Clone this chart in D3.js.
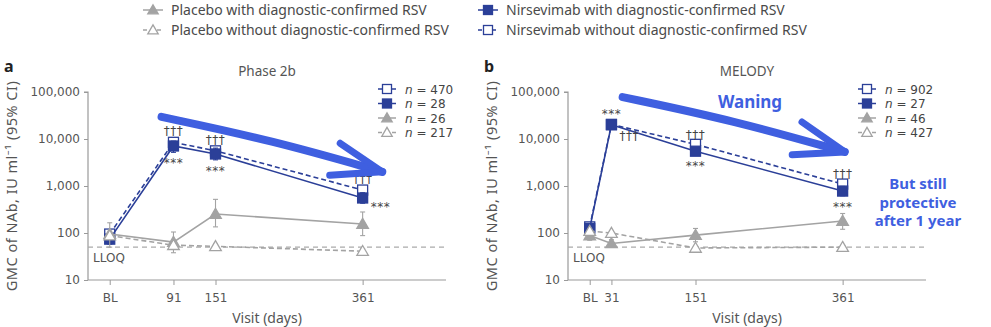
<!DOCTYPE html>
<html>
<head>
<meta charset="utf-8">
<script src="https://cdn.jsdelivr.net/npm/d3@7"></script>
<style>
  body { margin: 0; background: #fff; }
  svg { font-family: "Noto Sans", "Open Sans", sans-serif; }
</style>
</head>
<body>
<div id="chart"></div>
<script>
// Visits (days after dosing, BL = 0)
const visitsA = [0, 91, 151, 361];
const visitsB = [0, 31, 151, 361];
const tickLabelsA = ["BL", "91", "151", "361"];
const tickLabelsB = ["BL", "31", "151", "361"];
const yTicks = [10, 100, 1000, 10000, 100000];

// Phase 2b GMC values and 95% CI
const nirsWithoutA = [95, 8500, 5600, 820];
const nirsWithoutCiA = [[80, 115], [7200, 10200], [4900, 6400], [730, 930]];
const nirsWithA = [74, 7100, 4800, 556];
const nirsWithCiA = [[58, 95], [5200, 9000], [3600, 6400], [430, 720]];
const placWithA = [95, 64, 254, 155];
const placWithCiA = [[50, 165], [38, 105], [135, 520], [88, 280]];
const placWithoutA = [88, 55, 52, 41];
const placWithoutCiA = [[76, 102], [48, 63], [46, 59], [37, 46]];

// MELODY GMC values and 95% CI
const nirsWithoutB = [135, 20500, 7700, 1100];
const nirsWithoutCiB = [[120, 150], [19000, 22000], [7200, 8300], [1000, 1200]];
const nirsWithB = [125, 20000, 5500, 780];
const nirsWithCiB = [[105, 150], [17000, 23500], [4600, 6600], [620, 980]];
const placWithB = [88, 60, 90, 180];
const placWithCiB = [[70, 110], [50, 72], [65, 125], [120, 260]];
const placWithoutB = [110, 100, 48, 50];
const placWithoutCiB = [[100, 120], [90, 110], [44, 52], [46, 54]];

// Group sizes for the inner legends (open sq, filled sq, filled tri, open tri)
const nA = [470, 28, 26, 217];
const nB = [902, 27, 46, 427];

// Significance marks: [visit index, text, side]
const sigA = [[1, "†††", "above"], [1, "***", "below"], [2, "†††", "above"], [2, "***", "below"], [3, "†††", "above"], [3, "***", "right"]];
const sigB = [[1, "***", "above"], [1, "†††", "rightBelow"], [2, "†††", "above"], [2, "***", "below"], [3, "†††", "above"], [3, "***", "below"]];

// Hand-drawn arrows in data units [day, value]
const arrowA = [[74, 29500], [389, 2000]];
const arrowHeadA = [[[329, 8100], [389, 2000]], [[314, 1700], [389, 2000]]];
const arrowB = [[47, 78000], [364, 5300]];
const arrowHeadB = [[[303, 23000], [364, 5300]], [[289, 4600], [364, 5300]]];

const LLOQ = 50;

const navy = "#2b3f98";
const grey = "#a3a3a3";
const annot = "#3f5fe0";
const wide = "\"DejaVu Sans\", sans-serif";

const width = 991, height = 327;
const svg = d3.select("#chart").append("svg")
  .attr("width", width).attr("height", height);

// marker drawing helper
function marker(g, type, color, x, y, s) {
  if (type === "sqFill" || type === "sqOpen") {
    g.append("rect").attr("x", x - s / 2).attr("y", y - s / 2)
      .attr("width", s).attr("height", s)
      .attr("fill", type === "sqFill" ? color : "#fff")
      .attr("stroke", color).attr("stroke-width", 1.3);
  } else {
    const h = s * 0.95;
    g.append("path")
      .attr("d", `M${x},${y - h * 0.6}L${x + s * 0.58},${y + h * 0.45}L${x - s * 0.58},${y + h * 0.45}Z`)
      .attr("fill", type === "triFill" ? color : "#fff")
      .attr("stroke", color).attr("stroke-width", 1.3);
  }
}

// Top legend
const legendItems = [
  { label: "Placebo with diagnostic-confirmed RSV", type: "triFill", color: grey, dash: null, x: 143, y: 10 },
  { label: "Placebo without diagnostic-confirmed RSV", type: "triOpen", color: grey, dash: "4,3", x: 143, y: 30 },
  { label: "Nirsevimab with diagnostic-confirmed RSV", type: "sqFill", color: navy, dash: null, x: 478, y: 10 },
  { label: "Nirsevimab without diagnostic-confirmed RSV", type: "sqOpen", color: navy, dash: "4,3", x: 478, y: 30 }
];
legendItems.forEach(d => {
  const g = svg.append("g");
  g.append("line").attr("x1", d.x).attr("x2", d.x + 20).attr("y1", d.y).attr("y2", d.y)
    .attr("stroke", d.color).attr("stroke-width", 1.5)
    .attr("stroke-dasharray", d.dash);
  marker(g, d.type, d.color, d.x + 10, d.y, 9);
  g.append("text").attr("x", d.x + 28).attr("y", d.y + 5)
    .attr("font-size", 14).attr("fill", "#4a4a4a").text(d.label);
});

function drawPanel(cfg) {
  const x = d3.scaleLinear().domain([-31, 480]).range([cfg.left, cfg.left + 358]);
  const y = d3.scaleLog().domain([10, 100000]).range([280, 92]);
  const g = svg.append("g");

  // panel letter and title
  g.append("text").attr("x", cfg.left - 84).attr("y", 72)
    .attr("font-size", 16).attr("font-weight", "bold").attr("fill", "#222").text(cfg.letter);
  g.append("text").attr("x", cfg.left + 179).attr("y", 76).attr("text-anchor", "middle")
    .attr("font-size", 13.5).attr("fill", "#555").text(cfg.title);

  // axes
  const yAxis = d3.axisLeft(y).tickValues(yTicks).tickFormat(d3.format(",")).tickSize(4).tickPadding(4);
  const ya = g.append("g").attr("transform", `translate(${cfg.left},0)`).call(yAxis);
  const xAxis = d3.axisBottom(x).tickValues(cfg.visits)
    .tickFormat((d, i) => cfg.tickLabels[i]).tickSize(5).tickPadding(8);
  const xa = g.append("g").attr("transform", `translate(0,280)`).call(xAxis);
  [ya, xa].forEach(a => {
    a.select(".domain").attr("stroke", "#9a9a9a").attr("stroke-width", 1.2);
    a.selectAll(".tick line").attr("stroke", "#9a9a9a");
    a.selectAll(".tick text").attr("fill", "#555").attr("font-size", 12)
      .attr("font-family", wide);
  });
  ya.select(".domain").attr("d", `M-4,${y(100000)}H0V280`);
  xa.select(".domain").attr("d", `M${x(-31)},0H${x(480)}`);

  g.append("text").attr("transform", `translate(${cfg.left - 71},186) rotate(-90)`)
    .attr("text-anchor", "middle").attr("font-size", 14.5).attr("letter-spacing", "0.5px")
    .attr("fill", "#555").text("GMC of NAb, IU ml⁻¹ (95% CI)");
  g.append("text").attr("x", cfg.left + 179).attr("y", 323).attr("text-anchor", "middle")
    .attr("font-size", 14).attr("fill", "#555").text("Visit (days)");

  // LLOQ line
  g.append("line").attr("x1", x(-31)).attr("x2", x(480)).attr("y1", y(LLOQ)).attr("y2", y(LLOQ))
    .attr("stroke", "#aaa").attr("stroke-width", 1.3).attr("stroke-dasharray", "5,4");
  g.append("text").attr("x", x(-31) + 5).attr("y", y(LLOQ) + 15)
    .attr("font-size", 12).attr("font-family", wide).attr("fill", "#555").text("LLOQ");

  // series
  cfg.series.forEach(s => {
    const pts = cfg.visits.map((v, i) => [x(v), y(s.values[i])]);
    g.append("path").attr("d", d3.line()(pts)).attr("fill", "none")
      .attr("stroke", s.color).attr("stroke-width", 1.6)
      .attr("stroke-dasharray", s.dash);
    cfg.visits.forEach((v, i) => {
      const cx = x(v);
      const [lo, hi] = s.ci[i];
      g.append("line").attr("x1", cx).attr("x2", cx).attr("y1", y(lo)).attr("y2", y(hi))
        .attr("stroke", s.color).attr("stroke-width", 1.1);
      [lo, hi].forEach(b => g.append("line").attr("x1", cx - 2.5).attr("x2", cx + 2.5)
        .attr("y1", y(b)).attr("y2", y(b)).attr("stroke", s.color).attr("stroke-width", 1.1));
      marker(g, s.type, s.color, cx, y(s.values[i]), 10);
    });
  });

  // significance marks
  cfg.sig.forEach(([i, t, side]) => {
    const cx = x(cfg.visits[i]);
    const top = y(Math.max(...cfg.series.slice(0, 2).map(s => s.ci[i][1])));
    const bot = y(Math.min(...cfg.series.slice(0, 2).map(s => s.ci[i][0])));
    let tx = cx, ty, anchor = "middle";
    if (side === "above") ty = top - 4;
    else if (side === "below") ty = bot + 15;
    else if (side === "right") { tx = cx + 8; ty = bot + 8; anchor = "start"; }
    else { tx = cx + 8; ty = bot + 12; anchor = "start"; }
    g.append("text").attr("x", tx).attr("y", ty).attr("text-anchor", anchor)
      .attr("font-size", 12).attr("font-family", wide).attr("fill", "#444")
      .attr("letter-spacing", "0.5px").text(t);
  });

  // inner legend
  const innerTypes = [
    { type: "sqOpen", color: navy, dash: "4,3" },
    { type: "sqFill", color: navy, dash: null },
    { type: "triFill", color: grey, dash: null },
    { type: "triOpen", color: grey, dash: "4,3" }
  ];
  const lx = cfg.left + 290;
  innerTypes.forEach((d, i) => {
    const ly = 89 + i * 14.5;
    g.append("line").attr("x1", lx).attr("x2", lx + 18).attr("y1", ly).attr("y2", ly)
      .attr("stroke", d.color).attr("stroke-width", 1.5).attr("stroke-dasharray", d.dash);
    marker(g, d.type, d.color, lx + 9, ly, 9);
    const t = g.append("text").attr("x", lx + 27).attr("y", ly + 4.5)
      .attr("font-size", 12).attr("font-family", wide).attr("fill", "#444");
    t.append("tspan").attr("font-style", "italic").text("n");
    t.append("tspan").text(" = " + cfg.n[i]);
  });

  // hand-drawn arrow
  const p = d => [x(d[0]), y(d[1])];
  const arrowPath = d3.line().curve(d3.curveBasis);
  const [a0, a1] = cfg.arrow.map(p);
  const mid = [(a0[0] + a1[0]) / 2, (a0[1] + a1[1]) / 2 - 4];
  g.append("path").attr("d", arrowPath([a0, mid, a1])).attr("fill", "none")
    .attr("stroke", annot).attr("stroke-width", 8).attr("stroke-linecap", "round");
  cfg.head.forEach(seg => {
    g.append("path").attr("d", d3.line()(seg.map(p))).attr("fill", "none")
      .attr("stroke", annot).attr("stroke-width", 7).attr("stroke-linecap", "round");
  });
}

drawPanel({
  left: 88, letter: "a", title: "Phase 2b", visits: visitsA, tickLabels: tickLabelsA, n: nA,
  sig: sigA, arrow: arrowA, head: arrowHeadA,
  series: [
    { values: nirsWithoutA, ci: nirsWithoutCiA, type: "sqOpen", color: navy, dash: "5,3" },
    { values: nirsWithA, ci: nirsWithCiA, type: "sqFill", color: navy, dash: null },
    { values: placWithA, ci: placWithCiA, type: "triFill", color: grey, dash: null },
    { values: placWithoutA, ci: placWithoutCiA, type: "triOpen", color: grey, dash: "5,3" }
  ]
});
drawPanel({
  left: 568, letter: "b", title: "MELODY", visits: visitsB, tickLabels: tickLabelsB, n: nB,
  sig: sigB, arrow: arrowB, head: arrowHeadB,
  series: [
    { values: nirsWithoutB, ci: nirsWithoutCiB, type: "sqOpen", color: navy, dash: "5,3" },
    { values: nirsWithB, ci: nirsWithCiB, type: "sqFill", color: navy, dash: null },
    { values: placWithB, ci: placWithCiB, type: "triFill", color: grey, dash: null },
    { values: placWithoutB, ci: placWithoutCiB, type: "triOpen", color: grey, dash: "5,3" }
  ]
});

// Annotations
svg.append("text").attr("x", 750).attr("y", 108).attr("text-anchor", "middle")
  .attr("font-size", 17).attr("font-weight", "bold").attr("fill", annot).text("Waning");
["But still", "protective", "after 1 year"].forEach((t, i) => {
  svg.append("text").attr("x", 918).attr("y", 189 + i * 18.5).attr("text-anchor", "middle")
    .attr("font-size", 15).attr("font-weight", "bold").attr("fill", annot).text(t);
});
</script>
</body>
</html>
